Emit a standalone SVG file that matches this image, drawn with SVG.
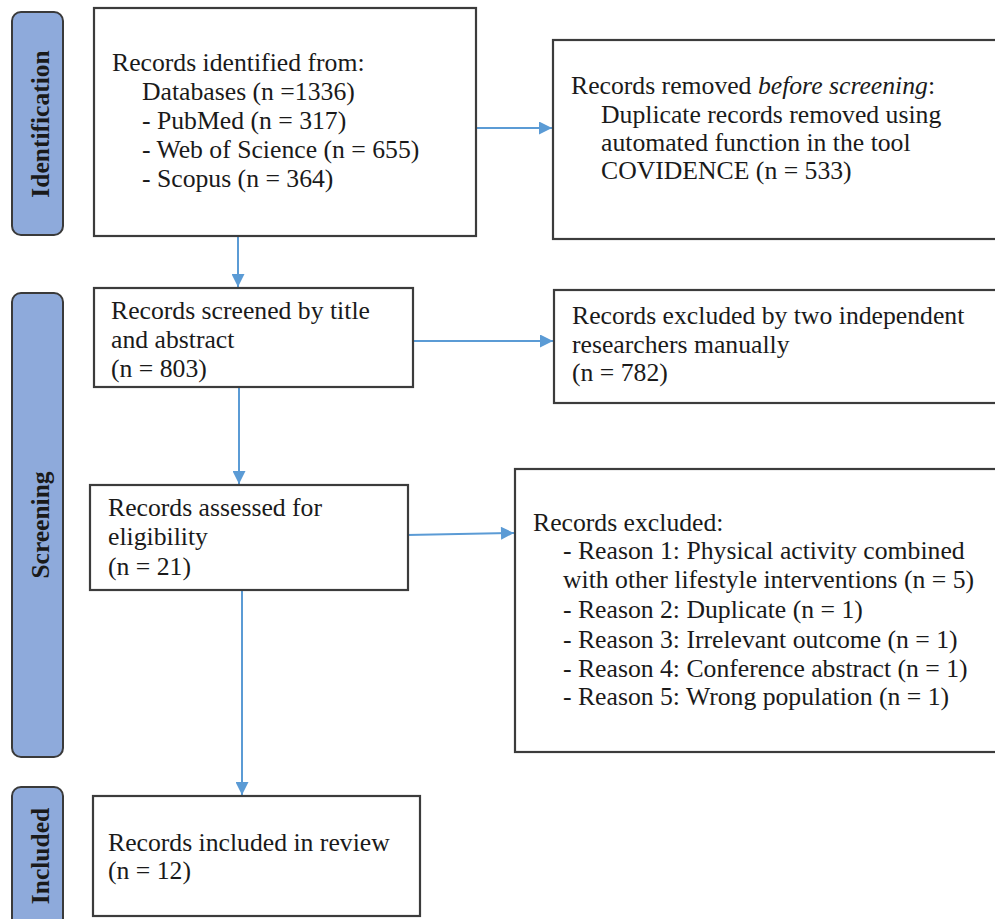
<svg xmlns="http://www.w3.org/2000/svg" width="995" height="919" viewBox="0 0 995 919">
<defs>
<style>
.bar{fill:#8eaadb;stroke:#3a3a3a;stroke-width:2}
.box{fill:#fff;stroke:#3c3c3c;stroke-width:2.2}
.t{font-family:"Liberation Serif","Times New Roman",serif;font-size:25.7px;fill:#1a1a1a}
.lab{font-family:"Liberation Serif","Times New Roman",serif;font-size:25.5px;font-weight:bold;fill:#1a1a1a;text-anchor:middle}
.c{stroke:#5b9bd5;stroke-width:2;fill:none;marker-end:url(#ah)}
</style>
<marker id="ah" viewBox="0 0 10 10" refX="10" refY="5" markerWidth="7" markerHeight="6.5" markerUnits="strokeWidth" orient="auto">
<path d="M0,0 L10,5 L0,10 z" fill="#5b9bd5"/>
</marker>
</defs>
<rect width="995" height="919" fill="#fff"/>
<g id="phase-identification">
<rect class="bar" x="12" y="12" width="51" height="223" rx="9"/>
<text class="lab" transform="translate(49,124) rotate(-90)">Identification</text>
</g>
<g id="phase-screening">
<rect class="bar" x="12" y="293" width="51" height="464" rx="9"/>
<text class="lab" transform="translate(49,525) rotate(-90)">Screening</text>
</g>
<g id="phase-included">
<rect class="bar" x="12" y="787" width="51" height="150" rx="9"/>
<text class="lab" transform="translate(49,856) rotate(-90)">Included</text>
</g>
<g id="connectors">
<line class="c" x1="477" y1="128" x2="552" y2="128"/>
<line class="c" x1="238" y1="237" x2="238" y2="287"/>
<line class="c" x1="413" y1="341" x2="553" y2="341"/>
<line class="c" x1="239" y1="388" x2="239" y2="484"/>
<line class="c" x1="407" y1="535" x2="514" y2="533"/>
<line class="c" x1="242" y1="591" x2="242" y2="795"/>
</g>
<g id="identified">
<rect class="box" x="94" y="8" width="382" height="228"/>
<text class="t" x="112" y="71">Records identified from:</text>
<text class="t" x="142" y="100">Databases (n =1336)</text>
<text class="t" x="142" y="129">- PubMed (n = 317)</text>
<text class="t" x="142" y="158">- Web of Science (n = 655)</text>
<text class="t" x="142" y="187">- Scopus (n = 364)</text>
</g>
<g id="removed">
<rect class="box" x="553" y="40" width="460" height="199"/>
<text class="t" x="571" y="94">Records removed <tspan font-style="italic">before screening</tspan>:</text>
<text class="t" x="601" y="123">Duplicate records removed using</text>
<text class="t" x="601" y="151">automated function in the tool</text>
<text class="t" x="601" y="179">COVIDENCE (n = 533)</text>
</g>
<g id="screened">
<rect class="box" x="94" y="288" width="319" height="99"/>
<text class="t" x="111" y="319">Records screened by title</text>
<text class="t" x="111" y="348">and abstract</text>
<text class="t" x="111" y="377">(n = 803)</text>
</g>
<g id="excluded-screening">
<rect class="box" x="554" y="290" width="460" height="113"/>
<text class="t" x="572" y="324">Records excluded by two independent</text>
<text class="t" x="572" y="353">researchers manually</text>
<text class="t" x="572" y="381">(n = 782)</text>
</g>
<g id="assessed">
<rect class="box" x="90" y="485" width="318" height="105"/>
<text class="t" x="108" y="516">Records assessed for</text>
<text class="t" x="108" y="545">eligibility</text>
<text class="t" x="108" y="575">(n = 21)</text>
</g>
<g id="excluded-eligibility">
<rect class="box" x="515" y="469" width="500" height="283"/>
<text class="t" x="533" y="531">Records excluded:</text>
<text class="t" x="563" y="559">- Reason 1: Physical activity combined</text>
<text class="t" x="563" y="588">with other lifestyle interventions (n = 5)</text>
<text class="t" x="563" y="618">- Reason 2: Duplicate (n = 1)</text>
<text class="t" x="563" y="648">- Reason 3: Irrelevant outcome (n = 1)</text>
<text class="t" x="563" y="677">- Reason 4: Conference abstract (n = 1)</text>
<text class="t" x="563" y="705">- Reason 5: Wrong population (n = 1)</text>
</g>
<g id="included">
<rect class="box" x="93" y="796" width="327" height="120"/>
<text class="t" x="108" y="851">Records included in review</text>
<text class="t" x="108" y="879">(n = 12)</text>
</g>
</svg>
